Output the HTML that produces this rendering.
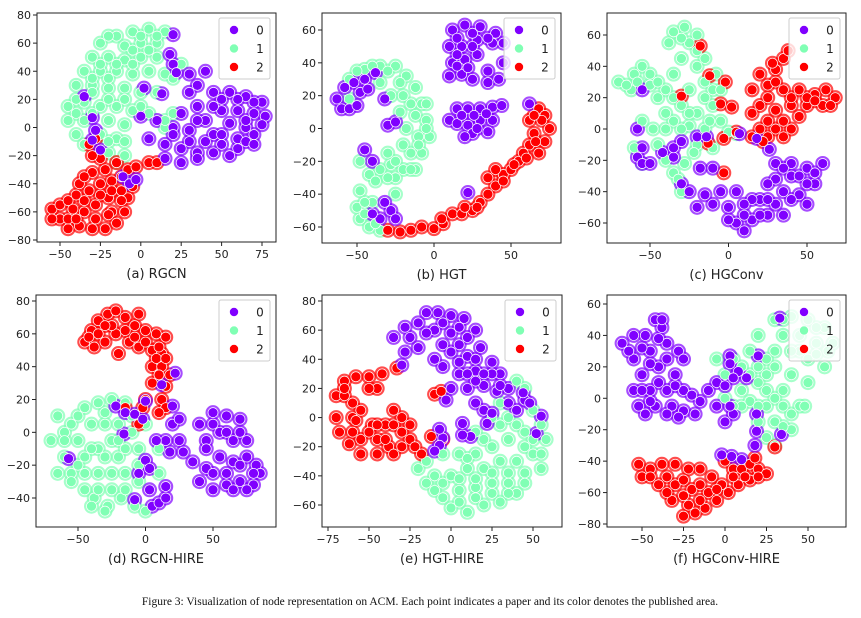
<!DOCTYPE html>
<html><head><meta charset="utf-8"><style>
body{margin:0;background:#fff;}
svg{display:block;font-family:"DejaVu Sans","Liberation Sans",sans-serif;}
</style></head><body>
<svg id="fig" width="861" height="618" viewBox="0 0 861 618"></svg>
<script>
// Tick values per panel
const ticksA_x=[-50,-25,0,25,50,75], ticksA_y=[-80,-60,-40,-20,0,20,40,60,80];
const ticksB_x=[-50,0,50], ticksB_y=[-60,-40,-20,0,20,40,60];
const ticksC_x=[-50,0,50], ticksC_y=[-60,-40,-20,0,20,40,60];
const ticksD_x=[-50,0,50], ticksD_y=[-40,-20,0,20,40,60,80];
const ticksE_x=[-75,-50,-25,0,25,50], ticksE_y=[-60,-40,-20,0,20,40,60,80];
const ticksF_x=[-50,-25,0,25,50], ticksF_y=[-80,-60,-40,-20,0,20,40,60];
const classLabels=["0","1","2"];
const captions=["(a) RGCN","(b) HGT","(c) HGConv","(d) RGCN-HIRE","(e) HGT-HIRE","(f) HGConv-HIRE"];

// Panel (a) RGCN
const a0=[[30,38],[40,40],[30,25],[45,25],[55,25],[65,22],[75,18],[35,15],[50,12],[60,12],[70,10],[77,8],[25,10],[40,5],[55,3],[65,0],[75,2],[0,8],[10,5],[20,0],[30,-2],[45,-5],[60,-8],[70,-5],[5,-8],[15,-12],[25,-15],[35,-18],[45,-18],[50,-12],[15,-22],[25,-25],[35,-22],[55,-20],[65,-10],[35,30],[50,20],[60,20],[70,18],[45,15],[65,5],[35,5],[50,-5],[40,-10],[20,-5],[30,-10],[60,-15],[70,-12],[20,66],[18,52],[20,45],[22,39],[2,28],[13,24],[-35,22],[-30,7],[-28,-2],[-30,-9],[-25,-16],[-11,-35],[-7,-40],[-3,-37]];
const a1=[[-15,65],[-5,68],[5,70],[15,68],[-25,60],[-10,58],[0,60],[10,60],[-30,50],[-20,50],[-10,48],[0,50],[10,50],[-35,40],[-25,40],[-15,40],[-5,38],[5,40],[15,38],[-40,30],[-30,30],[-20,28],[-10,28],[0,25],[10,25],[-45,15],[-35,18],[-25,15],[-15,15],[-5,12],[-45,5],[-35,5],[-20,5],[-10,2],[-40,-5],[-25,-5],[-15,-8],[-35,-12],[-20,-18],[-15,-25],[-10,-20],[5,10],[20,10],[15,0],[25,45],[20,35],[-20,65],[0,65],[10,65],[-5,55],[5,55],[-25,45],[-15,45],[-5,45],[-30,35],[-20,35],[-40,20],[-30,25],[-20,20],[-10,20],[-30,10],[-40,10],[-20,-10],[-10,-10],[0,15],[15,5]];
const a2=[[-55,-58],[-50,-65],[-45,-72],[-38,-70],[-30,-72],[-22,-72],[-15,-68],[-10,-60],[-8,-50],[-5,-42],[-12,-45],[-20,-50],[-28,-55],[-35,-60],[-42,-58],[-50,-55],[-40,-48],[-32,-45],[-25,-40],[-30,-32],[-22,-30],[-18,-38],[-12,-35],[-25,-22],[-30,-20],[-32,-12],[-28,-8],[-45,-65],[-35,-52],[-18,-60],[-8,-30],[-3,-28],[5,-25],[10,-25],[-15,-25],[-38,-40],[-55,-65],[-40,-65],[-28,-65],[-20,-62],[-12,-52],[-25,-48],[-45,-52],[-35,-35],[-18,-45]];
// Panel (b) HGT
const b0=[[12,60],[20,63],[30,62],[40,58],[45,52],[10,50],[18,50],[28,54],[38,52],[12,40],[20,42],[28,45],[10,32],[18,33],[25,30],[35,35],[42,30],[45,40],[35,28],[15,55],[25,58],[35,55],[15,45],[25,50],[15,38],[22,37],[10,5],[15,12],[22,12],[30,12],[38,13],[44,14],[15,3],[22,2],[30,5],[38,5],[25,-3],[20,-5],[35,-2],[18,8],[26,8],[34,9],[28,0],[-63,18],[-58,25],[-52,28],[-45,30],[-38,34],[-60,12],[-55,12],[-50,14],[-48,22],[-43,24],[-32,18],[-30,2],[-25,4],[-45,-13],[-40,-20],[-32,-45],[-28,-50],[-35,-55],[-40,-52],[-25,-55],[22,-39],[62,15]];
const b1=[[-55,30],[-45,36],[-35,38],[-25,38],[-18,32],[-12,25],[-15,15],[-22,10],[-28,20],[-8,15],[-5,5],[-3,-5],[-10,-5],[-18,0],[-15,-15],[-8,-15],[-20,-25],[-28,-22],[-35,-25],[-42,-28],[-48,-38],[-50,-48],[-48,-55],[-42,-60],[-35,-62],[-40,-45],[-20,-10],[-30,-15],[-25,-30],[-12,-25],[-55,18],[-35,28],[-22,28],[-5,15],[-48,-20],[-50,35],[-40,38],[-30,35],[-20,20],[-12,8],[-10,-10],[-15,-25],[-25,-20],[-30,-30],[-38,-32],[-45,-45],[-45,-52],[-38,-58],[-5,0],[-25,-40]];
const b2=[[-30,-62],[-22,-63],[-15,-62],[-8,-60],[0,-61],[6,-58],[12,-52],[18,-52],[25,-50],[30,-45],[35,-40],[40,-35],[45,-28],[50,-25],[55,-20],[58,-15],[62,-10],[65,-3],[62,5],[68,12],[72,8],[75,0],[72,-8],[68,-15],[40,-25],[35,-30],[5,-55],[20,-48],[28,-48],[45,-32],[52,-22],[60,-18],[66,-8],[70,5],[65,8]];
// Panel (c) HGConv
const c0=[[30,-22],[40,-22],[50,-25],[60,-22],[30,-32],[40,-30],[55,-35],[35,-40],[45,-42],[50,-48],[20,-45],[25,-55],[15,-58],[5,-60],[10,-65],[0,-50],[5,-40],[15,-45],[-5,-40],[-15,-42],[-20,-50],[-25,-40],[-30,-35],[-18,-25],[-10,-25],[35,-25],[45,-30],[50,-35],[40,-45],[30,-48],[20,-55],[10,-55],[0,-58],[10,-48],[-10,-48],[25,-35],[55,-28],[-35,-18],[-42,-15],[-58,-18],[-55,-22],[-50,-22],[-55,-12],[-58,0],[-55,25],[-30,-8],[-35,-12],[-20,-5],[-14,-5],[7,-3],[18,-6],[26,-13],[35,-55],[25,-45]];
const c1=[[-70,30],[-60,35],[-55,40],[-50,28],[-62,25],[-45,20],[-40,10],[-55,5],[-48,0],[-35,5],[-25,2],[-15,0],[-20,10],[-30,15],[-25,25],[-15,20],[-10,25],[-35,35],[-20,40],[-15,30],[-30,45],[-25,55],[-20,60],[-35,62],[-28,65],[-38,55],[-8,35],[-5,5],[0,-2],[5,-3],[-45,-10],[-40,-20],[-35,-28],[-30,-40],[-60,-12],[-55,-22],[-20,-10],[-10,-12],[-5,25],[-65,28],[-58,30],[-50,35],[-45,30],[-40,25],[-35,20],[-25,10],[-10,15],[-12,5],[-30,0],[-40,0],[-20,50],[-30,58],[-15,45],[-22,-15],[-28,-22],[-32,-32]];
const c2=[[20,35],[30,38],[35,45],[38,50],[15,25],[25,28],[35,25],[45,25],[55,22],[62,25],[68,20],[20,15],[30,12],[40,15],[50,15],[60,15],[25,5],[35,5],[45,8],[25,-5],[35,-5],[20,0],[25,20],[40,20],[50,20],[30,30],[15,10],[30,0],[40,0],[55,18],[65,15],[28,42],[-18,53],[-12,34],[-2,30],[-30,21],[-5,16],[2,14],[-3,-6],[-13,-9],[5,-2],[15,-5],[22,-8],[-3,-28]];
// Panel (d) RGCN-HIRE
const d0=[[40,5],[50,12],[60,10],[70,8],[45,-5],[55,0],[65,-5],[75,-5],[35,-18],[45,-22],[55,-15],[65,-18],[75,-15],[82,-20],[40,-30],[50,-35],[60,-32],[70,-30],[80,-32],[85,-25],[50,5],[60,0],[70,0],[50,-25],[60,-25],[70,-20],[45,-10],[80,-25],[65,-35],[75,-35],[15,-5],[25,-5],[20,5],[28,-12],[18,-12],[25,8],[22,36],[12,29],[-22,16],[-15,12],[-8,11],[0,19],[-2,8],[-16,-1],[-57,-16],[0,-17],[3,-22],[-5,-25],[3,-35],[-8,-41],[5,-45],[10,-43],[15,-33],[15,-40],[20,16],[8,-5]];
const d1=[[-65,10],[-70,-5],[-60,-15],[-65,-25],[-55,5],[-45,15],[-35,18],[-25,20],[-15,18],[-50,-5],[-40,5],[-30,5],[-20,5],[-10,0],[0,5],[-55,-25],[-45,-15],[-35,-10],[-25,-5],[-15,-10],[-5,-10],[-45,-35],[-35,-25],[-25,-25],[-15,-25],[-5,-30],[-38,-40],[-28,-45],[-18,-40],[-8,-45],[0,-48],[-55,-30],[-20,-15],[10,-10],[10,-25],[-60,0],[-60,-5],[-50,10],[-45,-25],[-35,-35],[-25,-35],[-15,-35],[-5,-20],[-50,-20],[-30,-15],[-40,-10],[-20,-5],[-10,10],[-30,12],[-40,-45],[-30,-48]];
const d2=[[-45,55],[-40,62],[-35,68],[-28,72],[-22,74],[-15,70],[-8,65],[0,62],[8,60],[15,58],[-38,52],[-30,55],[-22,60],[-12,55],[-5,52],[5,50],[12,48],[-20,48],[5,40],[12,40],[18,35],[15,28],[5,30],[0,20],[-2,15],[12,20],[15,15],[10,12],[-15,15],[-5,5],[-25,65],[-5,72],[-35,60],[-15,62],[-8,58],[0,55],[10,52],[-30,65],[8,45],[15,45],[10,35],[-42,58]];
// Panel (e) HGT-HIRE
const e0=[[-35,55],[-28,62],[-20,65],[-15,72],[-8,72],[0,70],[8,68],[15,60],[-28,45],[-20,48],[-10,60],[0,58],[10,55],[-30,36],[-10,40],[0,45],[10,42],[18,48],[25,38],[30,30],[15,32],[5,30],[-5,35],[0,20],[10,20],[20,22],[28,18],[35,20],[-25,55],[-15,58],[-5,65],[5,62],[-5,50],[5,50],[15,40],[25,30],[10,30],[20,30],[15,25],[30,22],[5,38],[-3,12],[15,10],[20,5],[25,3],[35,10],[40,5],[45,12],[48,10],[44,17],[55,1],[52,-11],[22,-4],[12,-13],[7,-4],[7,-12],[-5,-14],[-7,-19],[-10,-23],[-7,-8]];
const e1=[[-15,-30],[-5,-25],[5,-25],[15,-25],[25,-20],[35,-15],[45,-10],[55,-5],[58,-15],[-10,-40],[0,-40],[10,-35],[20,-35],[30,-30],[40,-30],[50,-25],[55,-35],[-5,-55],[5,-50],[15,-48],[25,-45],[35,-45],[45,-45],[0,-62],[10,-65],[20,-60],[30,-58],[40,-52],[15,-10],[25,0],[35,0],[45,20],[40,25],[50,5],[30,-5],[-10,-50],[20,-15],[-20,-35],[-15,-45],[5,-42],[15,-42],[25,-38],[35,-38],[45,-38],[5,-58],[15,-55],[25,-52],[35,-52],[-5,-45],[10,-28],[50,-15],[40,-5],[30,10],[45,-20],[55,-25]];
const e2=[[-70,15],[-65,25],[-58,28],[-50,28],[-42,30],[-45,20],[-60,10],[-70,0],[-68,-10],[-62,-18],[-55,-15],[-48,-5],[-55,5],[-45,-15],[-40,-5],[-35,5],[-30,0],[-25,-5],[-30,-10],[-38,-20],[-45,-25],[-35,-25],[-25,-15],[-22,-20],[-18,-25],[-12,-13],[-5,-15],[-65,15],[-50,20],[-60,0],[-50,-10],[-60,-10],[-55,-25],[-45,-5],[-40,-15],[-30,-20],[-35,-5],[-65,20],[-33,34],[-10,16],[-6,18],[-58,-2]];
// Panel (f) HGConv-HIRE
const f0=[[-62,35],[-55,40],[-48,40],[-42,50],[-38,45],[-45,30],[-35,35],[-28,30],[-25,25],[-55,25],[-50,15],[-40,20],[-30,15],[-55,5],[-45,5],[-35,5],[-25,5],[-52,-5],[-42,-5],[-32,-5],[-48,-10],[-25,-8],[-18,-10],[-28,-12],[-15,-2],[-10,5],[-5,10],[-5,-5],[0,8],[-58,30],[-50,32],[-40,38],[-45,22],[-35,25],[-50,5],[-40,10],[-30,8],[-45,-2],[-35,-10],[-38,50],[0,-15],[5,-10],[3,-5],[-20,2],[3,27],[3,22],[8,17],[13,13],[5,13],[20,27],[33,51],[19,-10],[19,-21],[18,-30],[34,-23],[-2,-36],[4,-37],[10,-39]];
const f1=[[30,50],[40,52],[50,50],[60,45],[65,35],[55,35],[45,40],[35,40],[30,30],[50,25],[60,20],[25,25],[15,30],[5,25],[-5,25],[0,15],[15,15],[25,15],[40,15],[50,10],[35,5],[25,5],[10,5],[0,0],[45,-5],[35,-5],[25,-5],[15,-2],[30,-15],[40,-20],[25,-25],[30,-30],[20,-15],[48,-5],[20,40],[35,50],[45,30],[55,28],[40,30],[20,20],[10,20],[30,20],[20,10],[30,0],[40,-10],[35,-18],[20,-5],[10,-5],[55,45],[62,30],[5,-5]];
const f2=[[-52,-42],[-45,-45],[-38,-42],[-30,-42],[-22,-45],[-15,-45],[-8,-50],[0,-40],[5,-45],[10,-45],[15,-42],[20,-45],[25,-48],[18,-38],[-50,-50],[-40,-55],[-30,-55],[-20,-58],[-10,-60],[-2,-55],[8,-55],[15,-52],[-32,-65],[-22,-68],[-12,-70],[-5,-65],[2,-60],[-25,-75],[-18,-73],[-45,-50],[-35,-50],[-25,-52],[-15,-55],[-25,-62],[-15,-65],[-5,-58],[5,-50],[12,-50],[20,-50],[-35,-60],[30,-31]];

const colors=["#8000ff","#80ffb4","#ff0000"];
const NS="http://www.w3.org/2000/svg";
const svg=document.getElementById('fig');
function mk(tag,attrs,parent){const e=document.createElementNS(NS,tag);for(const k in attrs)e.setAttribute(k,attrs[k]);(parent||svg).appendChild(e);return e;}

const panels=[
 {box:[37,13,276,242],xr:[-50,60,75,262],yr:[80,15,-80,240],xt:ticksA_x,yt:ticksA_y,data:[a0,a1,a2]},
 {box:[322,13,561,243],xr:[-50,357,50,511],yr:[60,30,-60,227],xt:ticksB_x,yt:ticksB_y,data:[b0,b1,b2]},
 {box:[607,13,846,243],xr:[-50,650,50,807],yr:[60,35,-60,223],xt:ticksC_x,yt:ticksC_y,data:[c0,c1,c2]},
 {box:[36,295,276,527],xr:[-50,78,50,213],yr:[80,301,-40,498],xt:ticksD_x,yt:ticksD_y,data:[d0,d1,d2]},
 {box:[322,295,562,527],xr:[-75,328,50,533],yr:[80,301,-60,505],xt:ticksE_x,yt:ticksE_y,data:[e0,e1,e2]},
 {box:[607,295,846,527],xr:[-50,642,50,808],yr:[60,304,-80,524],xt:ticksF_x,yt:ticksF_y,data:[f0,f1,f2]}
];
function lin(r){return v=>r[1]+(v-r[0])*(r[3]-r[1])/(r[2]-r[0]);}

panels.forEach((p,i)=>{
  const g=mk('g',{});
  
  
  const X=lin(p.xr),Y=lin(p.yr);
  const [x0,y0,x1,y1]=p.box;
  const cid='clip'+i;
  const cp=mk('clipPath',{id:cid},g);mk('rect',{x:x0,y:y0,width:x1-x0,height:y1-y0},cp);
  const pts=mk('g',{'clip-path':'url(#'+cid+')'},g);
  
  
  [1,2,0].forEach(c=>{p.data[c].forEach(d=>{
    const h=mk('circle',{cx:X(d[0]),cy:Y(d[1]),r:7.5,fill:colors[c],opacity:0.7},pts);
    
    
  });});
  [1,2,0].forEach(c=>{p.data[c].forEach(d=>{
    const e=mk('circle',{cx:X(d[0]),cy:Y(d[1]),r:5,fill:colors[c],stroke:'#fff','stroke-width':0.7},pts);
    
    
  });});
  const fr=mk('rect',{x:x0,y:y0,width:x1-x0,height:y1-y0,fill:'none',stroke:'#222','stroke-width':1},g);
  
  
  p.xt.forEach(v=>{
    const px=X(v);
    mk('line',{x1:px,y1:y1,x2:px,y2:y1+4,stroke:'#222'},g);
    const t=mk('text',{x:px,y:y1+16,'font-size':11,'text-anchor':'middle',fill:'#222'},g);
    t.textContent=String(v).replace('-','\u2212');
    
    
  });
  p.yt.forEach(v=>{
    const py=Y(v);
    mk('line',{x1:x0-4,y1:py,x2:x0,y2:py,stroke:'#222'},g);
    const t=mk('text',{x:x0-6,y:py+4,'font-size':11,'text-anchor':'end',fill:'#222'},g);
    t.textContent=String(v).replace('-','\u2212');
    
    
  });
  const lg=mk('g',{},g);
  
  
  const lx=x1-57,ly=y0+5;
  mk('rect',{x:lx,y:ly,width:51,height:61,rx:2,fill:'#fff','fill-opacity':0.8,stroke:'#ccc'},lg);
  classLabels.forEach((lab,k)=>{
    const cy=ly+12+k*18.5;
    const m=mk('circle',{cx:lx+15,cy:cy,r:4.5,fill:colors[k],stroke:'#fff','stroke-width':0.6},lg);
    
    
    const t=mk('text',{x:lx+41,y:cy+4.5,'font-size':12,'text-anchor':'middle',fill:'#222'},lg);
    t.textContent=lab;
    
    
  });
  const cap=mk('text',{x:(x0+x1)/2,y:y1+36,'font-size':13,'text-anchor':'middle',fill:'#222'},g);
  cap.textContent=captions[i];
  
  
});
const fc=mk('text',{x:430,y:605,'font-size':11.5,'text-anchor':'middle',fill:'#111','font-family':'"Liberation Serif",serif'});
fc.textContent='Figure 3: Visualization of node representation on ACM. Each point indicates a paper and its color denotes the published area.';


</script>
</body></html>
